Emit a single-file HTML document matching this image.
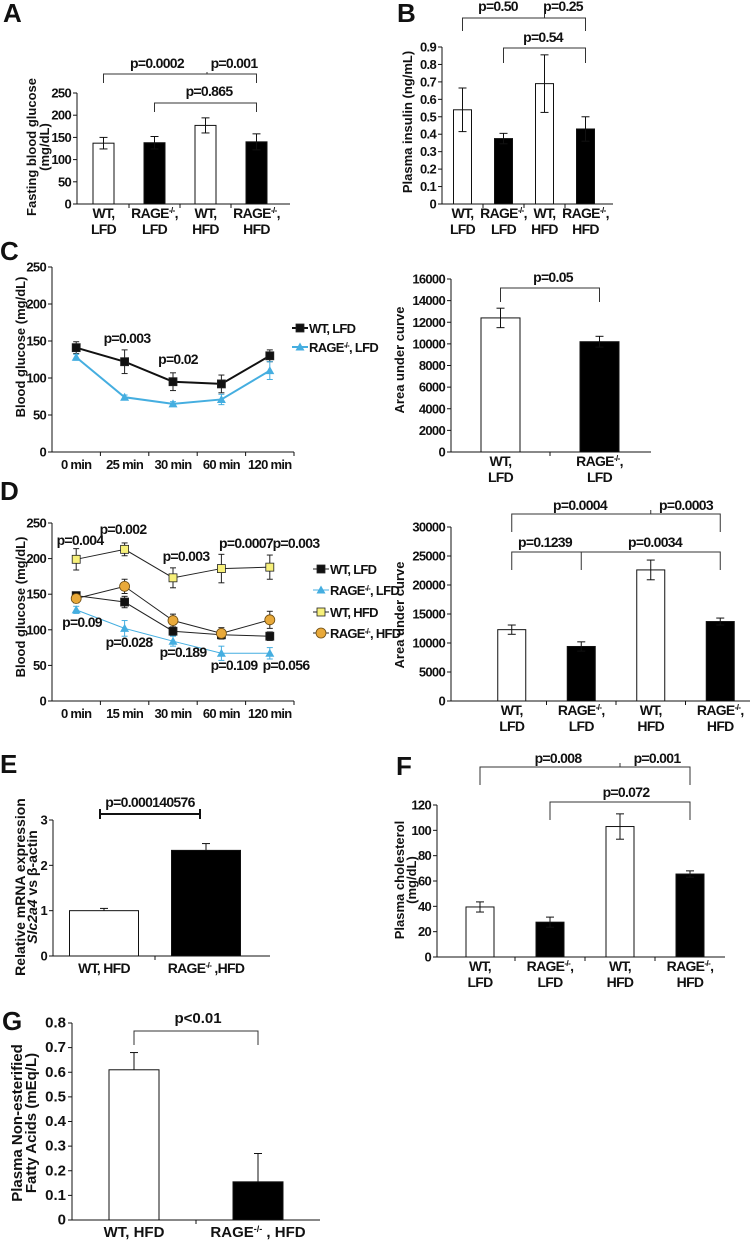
<!DOCTYPE html>
<html><head><meta charset="utf-8">
<style>
html,body{margin:0;padding:0;background:#fff;}
svg{display:block;}
text{font-family:"Liberation Sans",sans-serif;font-weight:bold;fill:#111;letter-spacing:-0.7px;}
.lbl{letter-spacing:0;}
</style></head>
<body>
<svg id="fig" xmlns="http://www.w3.org/2000/svg" width="752" height="1242" viewBox="0 0 752 1242"></svg>
<script>
// ---------- DATA ----------
const fourGroups = ["WT,|LFD","RAGE^-/-^,|LFD","WT,|HFD","RAGE^-/-^,|HFD"];
const aValues = [137,138,177,140];
const aErrors = [13,14,17,18];
const aTicks = [0,50,100,150,200,250];
const bValues = [0.54,0.375,0.69,0.43];
const bErrors = [0.125,0.03,0.165,0.07];
const bTicks = [0,0.1,0.2,0.3,0.4,0.5,0.6,0.7,0.8,0.9];
const cTimes = ["0 min","25 min","30 min","60 min","120 min"];
const cWT = [141,122,95,92,130];
const cWTerr = [8,16,12,12,8];
const cRAGE = [128,74,65,71,110];
const cRAGEerr = [4,3,3,7,12];
const glucTicks = [0,50,100,150,200,250];
const cAucGroups = ["WT,|LFD","RAGE^-/-^,|LFD"];
const cAuc = [12400,10200];
const cAucErr = [900,500];
const cAucTicks = [0,2000,4000,6000,8000,10000,12000,14000,16000];
const dTimes = ["0 min","15 min","30 min","60 min","120 min"];
const dWTLFD = [148,139,98,93,91];
const dWTLFDerr = [5,8,6,5,6];
const dRAGELFD = [128,102,84,67,67];
const dRAGELFDerr = [5,11,7,10,8];
const dWTHFD = [199,213,173,186,188];
const dWTHFDerr = [15,9,14,20,17];
const dRAGEHFD = [144,161,113,95,114];
const dRAGEHFDerr = [6,10,9,8,12];
const dAuc = [12300,9400,22600,13700];
const dAucErr = [800,800,1700,600];
const dAucTicks = [0,5000,10000,15000,20000,25000,30000];
const eGroups = ["WT, HFD","RAGE^-/-^ ,HFD"];
const eValues = [1.0,2.33];
const eErrors = [0.05,0.15];
const eTicks = [0,1,2,3];
const fValues = [39.5,27.5,103,65.5];
const fErrors = [4,4,10,2.5];
const fTicks = [0,20,40,60,80,100,120];
const gGroups = ["WT, HFD","RAGE^-/-^ , HFD"];
const gValues = [0.61,0.155];
const gErrors = [0.07,0.115];
const gTicks = [0,0.1,0.2,0.3,0.4,0.5,0.6,0.7,0.8];

// ---------- HELPERS ----------
const NS='http://www.w3.org/2000/svg';
const svg=document.getElementById('fig');
function mk(tag,a,parent){const e=document.createElementNS(NS,tag);for(const k in a)e.setAttribute(k,a[k]);(parent||svg).appendChild(e);return e;}
function rich(t,str,size){
  const parts=str.split('^');
  parts.forEach((p,i)=>{ if(!p)return; const ts=mk('tspan',{},t); ts.textContent=p;
    if(i%2===1){ts.setAttribute('font-size',size*0.6);ts.setAttribute('baseline-shift','super');}});
}
function txt(x,y,str,size,anchor,parent,cls){
  const t=mk('text',{x:x,y:y,'font-size':size,'text-anchor':anchor||'middle'},parent);
  if(cls)t.setAttribute('class',cls);
  rich(t,str,size);
  return t;
}
function line(x1,y1,x2,y2,parent,w,col){return mk('line',{x1:x1,y1:y1,x2:x2,y2:y2,stroke:col||'#111','stroke-width':w||1},parent);}
function panel(name){const g=mk('g',{});return g;}
function letter(s,x,y){const t=txt(x,y,s,26,'start',svg,'lbl');}
function ylab(g,lines,x,cy,size,gap){
  lines.forEach((s,i)=>{
    const t=mk('text',{transform:'translate('+(x+i*gap)+','+cy+') rotate(-90)','font-size':size,'text-anchor':'middle',class:'lbl'},g);
    
    
    s.split('~').forEach((p,j)=>{const ts=mk('tspan',{},t);ts.textContent=p;if(j%2===1)ts.setAttribute('font-style','italic');});
  });
}
function yAxis(g,c,ticks,fmt){
  const sy=v=>c.y0-(v/c.max)*(c.y0-c.yTop);
  const ax=line(c.ax,c.yTop,c.ax,c.y0,g);
  
  
  ticks.forEach(v=>{line(c.ax-4,sy(v),c.ax,sy(v),g);
    const t=txt(c.ax-6,sy(v)+4.5,fmt?fmt(v):String(v),c.fs||13,'end',g,c.cls);
    
    });
  const xa=line(c.ax,c.y0,c.xEnd,c.y0,g);
  
  
  return sy;
}
function barChart(g,c,groups,vals,errs,ticks,fmt){
  const sy=yAxis(g,c,ticks,fmt);
  const bx=i=>c.bs+c.bw*(i+0.5);
  for(let i=1;i<groups.length;i++){line(c.bs+c.bw*i,c.y0,c.bs+c.bw*i,c.y0+4,g);}
  vals.forEach((v,i)=>{
    const fill=c.fills[i];
    const r=mk('rect',{x:bx(i)-c.barW/2,y:sy(v),width:c.barW,height:c.y0-sy(v),fill:fill==='w'?'#fff':'#000',stroke:'#111','stroke-width':1},g);
    
    
    const lo=c.upOnly?v:v-errs[i];
    const e=line(bx(i),sy(v+errs[i]),bx(i),sy(lo),g);
    
    
    line(bx(i)-4,sy(v+errs[i]),bx(i)+4,sy(v+errs[i]),g);
    if(!c.upOnly)line(bx(i)-4,sy(lo),bx(i)+4,sy(lo),g);
  });
  groups.forEach((s,i)=>{s.split('|').forEach((p,j)=>{
    const t=txt(bx(i)+(c.lblDx||0),c.y0+(c.lblDy||14)+j*16,p,c.lfs||14,'middle',g,c.lcls);
    
    });});
  return bx;
}
function bracket(g,x1,x2,y,drop1,drop2,label,lx,ly,size,cls){
  const p=mk('path',{d:'M'+x1+','+(y+drop1)+'V'+y+'H'+x2+'V'+(y+drop2),fill:'none',stroke:'#333','stroke-width':1},g);
  
  
  const t=txt(lx,ly,label,size||14,'middle',g,cls);
  
  
}
function marker(g,type,x,y,col){
  let m;
  if(type==='sq')m=mk('rect',{x:x-4,y:y-4,width:8,height:8,fill:col,stroke:'#222','stroke-width':0.8},g);
  else if(type==='tri')m=mk('path',{d:'M'+x+','+(y-4.5)+'L'+(x+4.5)+','+(y+3.5)+'L'+(x-4.5)+','+(y+3.5)+'Z',fill:col},g);
  else m=mk('circle',{cx:x,cy:y,r:5,fill:col,stroke:'#6b4a10','stroke-width':0.8},g);
  
  
}
function lineChart(g,c,times,series,ticks){
  const sy=yAxis(g,c,ticks);
  const step=(c.xEnd-c.ax)/times.length;
  const sx=i=>c.ax+step*(i+0.5);
  for(let i=1;i<=times.length;i++)line(c.ax+step*i,c.y0,c.ax+step*i,c.y0+4,g);
  times.forEach((s,i)=>{const t=txt(sx(i),c.y0+17,s,13,'middle',g);
    
    });
  series.forEach(s=>{
    const pl=mk('polyline',{points:s.v.map((v,i)=>sx(i)+','+sy(v)).join(' '),fill:'none',stroke:s.line,'stroke-width':s.w},g);
    
    
    s.v.forEach((v,i)=>{
      const e=line(sx(i),sy(v+s.e[i]),sx(i),sy(v-s.e[i]),g,1,s.ecol||'#222');
      
      
      line(sx(i)-3,sy(v+s.e[i]),sx(i)+3,sy(v+s.e[i]),g,1,s.ecol||'#222');
      line(sx(i)-3,sy(v-s.e[i]),sx(i)+3,sy(v-s.e[i]),g,1,s.ecol||'#222');
      marker(g,s.mk,sx(i),sy(v),s.fill);
    });
  });
}
function legend(g,x,y,s,label){
  const lg=mk('g',{},g);
  
  
  line(x-8,y,x+8,y,lg,s.w,s.line);
  marker(lg,s.mk,x,y,s.fill);
  txt(x+9,y+5,label,13,'start',lg);
}

// ---------- PANEL A ----------
letter('A',3,22);
let g=panel('panel-a-fasting-glucose');
barChart(g,{ax:77,xEnd:290,y0:204,yTop:93,max:250,bs:78,bw:51,barW:21,fills:['w','b','w','b']},fourGroups,aValues,aErrors,aTicks);
ylab(g,['Fasting blood glucose','(mg/dL)'],36,147,13,13);
bracket(g,103.5,207,74,9,-2,'p=0.0002',157,68);
bracket(g,207,256.5,74,0,9,'p=0.001',234,68);
bracket(g,154.5,256.5,103,9,9,'p=0.865',209,96);

// ---------- PANEL B ----------
letter('B',397,22);
g=panel('panel-b-plasma-insulin');
barChart(g,{ax:442,xEnd:613,y0:204,yTop:47,max:0.9,bs:442,bw:41,barW:18,fills:['w','b','w','b']},fourGroups,bValues,bErrors,bTicks,v=>v===0?'0':v.toFixed(1));
ylab(g,['Plasma insulin (ng/mL)'],412,122,13,14);
bracket(g,462.5,544.5,18,13,-4,'p=0.50',498,11);
bracket(g,544.5,585.5,18,0,13,'p=0.25',563,11);
bracket(g,503.5,585.5,48,15,15,'p=0.54',543,42);

// ---------- PANEL C ----------
letter('C',0,260);
g=panel('panel-c-line-chart');
const cSeries=[{name:'wt-lfd',v:cWT,e:cWTerr,line:'#111',w:2,mk:'sq',fill:'#111'},
               {name:'rage-lfd',v:cRAGE,e:cRAGEerr,line:'#45aee0',w:2,mk:'tri',fill:'#45aee0',ecol:'#45aee0'}];
lineChart(g,{ax:52,xEnd:294,y0:452,yTop:267,max:250},cTimes,cSeries,glucTicks);
ylab(g,['Blood glucose (mg/dL)'],25,347,13,14);
let t=txt(127,343,'p=0.003',14,'middle',g);
t=txt(178,364,'p=0.02',14,'middle',g);
legend(g,300,328,cSeries[0],'WT, LFD');
legend(g,300,347,cSeries[1],'RAGE^-/-^, LFD');
g=panel('panel-c-auc');
barChart(g,{ax:451,xEnd:651,y0:452,yTop:279,max:16000,bs:451,bw:99,barW:39,fills:['w','b']},cAucGroups,cAuc,cAucErr,cAucTicks);
ylab(g,['Area under curve'],404,360,13,14);
bracket(g,500.5,599.5,288,14,14,'p=0.05',553,282);

// ---------- PANEL D ----------
letter('D',0,500);
g=panel('panel-d-line-chart');
const dSeries=[{name:'wt-lfd',v:dWTLFD,e:dWTLFDerr,line:'#222',w:1,mk:'sq',fill:'#111'},
               {name:'rage-lfd',v:dRAGELFD,e:dRAGELFDerr,line:'#45aee0',w:1,mk:'tri',fill:'#45aee0',ecol:'#45aee0'},
               {name:'wt-hfd',v:dWTHFD,e:dWTHFDerr,line:'#222',w:1,mk:'sq',fill:'#f7f07a'},
               {name:'rage-hfd',v:dRAGEHFD,e:dRAGEHFDerr,line:'#222',w:1,mk:'circ',fill:'#e8a93a'}];
lineChart(g,{ax:52,xEnd:294,y0:701,yTop:523,max:250},dTimes,dSeries,glucTicks);
ylab(g,['Blood glucose (mg/dL)'],25,607,13,14);
[['p=0.004',80,545],['p=0.002',123,534],['p=0.003',186,561],['p=0.0007',246,548],['p=0.003',296,548],
 ['p=0.09',82,627],['p=0.028',129,647],['p=0.189',183,657],['p=0.109',234,670],['p=0.056',286,670]].forEach(a=>{
  const tt=txt(a[1],a[2],a[0],14,'middle',g);
  
  });
legend(g,321,569,dSeries[0],'WT, LFD');
legend(g,321,590,dSeries[1],'RAGE^-/-^, LFD');
legend(g,321,612,dSeries[2],'WT, HFD');
legend(g,321,633,dSeries[3],'RAGE^-/-^, HFD');
g=panel('panel-d-auc');
barChart(g,{ax:451,xEnd:750,y0:701,yTop:527,max:30000,bs:477,bw:69.5,barW:28,fills:['w','b','w','b']},fourGroups,dAuc,dAucErr,dAucTicks);
ylab(g,['Area under curve'],404,615,13,14);
bracket(g,511.75,650.75,514,18,-4,'p=0.0004',580,510);
bracket(g,650.75,720.25,514,0,18,'p=0.0003',686,510);
bracket(g,511.75,581.25,552,18,18,'p=0.1239',545,547);
bracket(g,581.25,720.25,552,0,18,'p=0.0034',655,547);

// ---------- PANEL E ----------
letter('E',0,773);
g=panel('panel-e-mrna');
barChart(g,{ax:53,xEnd:270,y0:956,yTop:820,max:3,bs:53,bw:102,barW:69,fills:['w','b'],upOnly:true,lblDy:17},eGroups,eValues,eErrors,eTicks);
ylab(g,['Relative mRNA expression','~Slc2a4~ vs β-actin'],25,887,14,12);
{const p=mk('path',{d:'M100,809V819M100,814H200M200,809V819',fill:'none',stroke:'#111','stroke-width':2},g);
 
 
 const tt=txt(150,807,'p=0.000140576',14,'middle',g);
 
 }

// ---------- PANEL F ----------
letter('F',396,775);
g=panel('panel-f-cholesterol');
barChart(g,{ax:437,xEnd:725,y0:957,yTop:805,max:120,bs:445,bw:70,barW:28,fills:['w','b','w','b']},fourGroups,fValues,fErrors,fTicks);
ylab(g,['Plasma cholesterol','(mg/dL)'],404,880,13,12);
bracket(g,480,620,767,18,-4,'p=0.008',558,763);
bracket(g,620,690,767,0,18,'p=0.001',657,763);
bracket(g,550,690,802,18,18,'p=0.072',626,797);

// ---------- PANEL G ----------
letter('G',2,1030);
g=panel('panel-g-nefa');
barChart(g,{ax:72,xEnd:320,y0:1220,yTop:1023,max:0.8,bs:72,bw:124,barW:50,fills:['w','b'],upOnly:true,fs:15,cls:'lbl',lfs:15,lcls:'lbl',lblDy:17},gGroups,gValues,gErrors,gTicks,v=>v===0?'0':v.toFixed(1));
ylab(g,['Plasma Non-esterified','Fatty Acids (mEq/L)'],22,1123,15,14);
bracket(g,134,258,1031,14,14,'p<0.01',198,1023,15,'lbl');
</script>
</body></html>
